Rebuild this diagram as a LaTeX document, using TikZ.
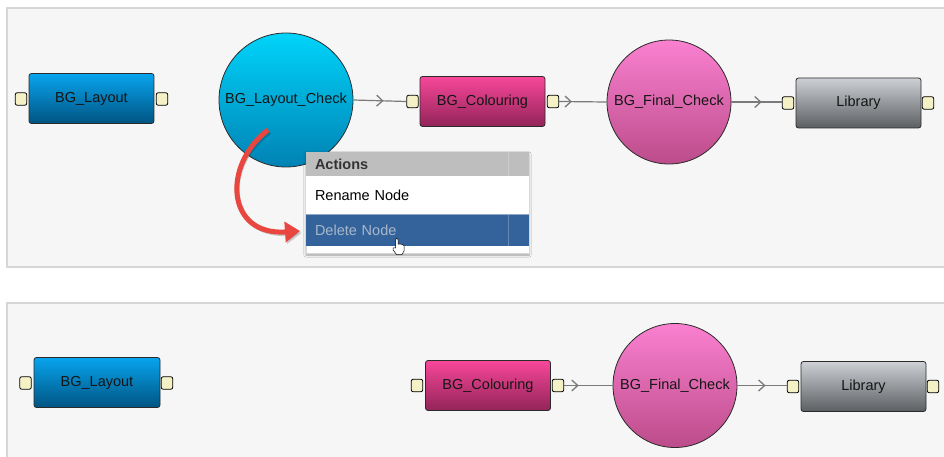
\documentclass[tikz,border=0pt]{standalone}
\usepackage{fontspec}
\setmainfont{Liberation Sans}
\usetikzlibrary{arrows.meta,shadows.blur,decorations.markings,shapes.geometric}
\definecolor{panelbg}{HTML}{F6F6F6}
\definecolor{panelline}{HTML}{D6D6D6}
\definecolor{nodeline}{HTML}{2A2A2A}
\definecolor{txt}{HTML}{151515}
\definecolor{portfill}{HTML}{F4F1C6}
\definecolor{linkgray}{HTML}{7A7A7A}
\definecolor{layT}{HTML}{08A4EE}
\definecolor{layB}{HTML}{005482}
\definecolor{chkT}{HTML}{00D4FA}
\definecolor{chkB}{HTML}{0082B4}
\definecolor{colT}{HTML}{F8479A}
\definecolor{colB}{HTML}{922458}
\definecolor{finT}{HTML}{FA80D0}
\definecolor{finB}{HTML}{BC4C8A}
\definecolor{libT}{HTML}{CDD0D4}
\definecolor{libB}{HTML}{5C5F62}
\definecolor{hdrgray}{HTML}{BEBEBE}
\definecolor{delblue}{HTML}{33639A}
\definecolor{deltext}{HTML}{A9B7CB}
\definecolor{redarr}{HTML}{E8463F}
\begin{document}
\begin{tikzpicture}[x=1pt,y=-1pt,
  font=\fontsize{14.5}{16}\selectfont,
  panel/.style={fill=panelbg,draw=panelline,line width=1.5pt},
  rectnode/.style={rectangle,rounded corners=2.5pt,draw=nodeline,line width=0.8pt,
    minimum width=125pt,minimum height=50pt,inner sep=0pt,text=txt},
  circnode/.style={circle,draw=nodeline,line width=0.8pt,inner sep=0pt,text=txt},
  port/.style={rectangle,rounded corners=2pt,draw=black,line width=0.8pt,fill=portfill,
    minimum width=11.5pt,minimum height=12.5pt,inner sep=0pt},
  link/.style={draw=linkgray,line width=1.2pt,
    decoration={markings,mark=at position #1 with {\arrow[linkgray]{Straight Barb[length=6pt,width=11pt,line width=1.3pt]}}},
    postaction={decorate}},
  menurow/.style={rectangle,minimum width=223pt,inner xsep=9pt,inner ysep=0pt,
    text width=205pt,align=left},
]
\useasboundingbox (0,0) rectangle (944,457);
\clip (0,0) rectangle (944,457);
\fill[white] (0,0) rectangle (944,457);
% panels
\draw[panel] (7,8) rectangle (960,267);
\draw[panel] (7,303) rectangle (960,475);

% ---------- top panel ----------
\node[rectnode,top color=layT,bottom color=layB] (lay1) at (91.5,98.5) {BG\_Layout};
\node[port] (lay1L) at (21,99) {};
\node[port] (lay1R) at (162,99) {};

\node[circnode,minimum size=134pt,top color=chkT,bottom color=chkB] (chk) at (286,100) {BG\_Layout\_Check};

\node[rectnode,top color=colT,bottom color=colB] (col1) at (482.5,101.5) {BG\_Colouring};
\node[port] (col1L) at (412.5,101.5) {};
\node[port] (col1R) at (553,101.5) {};

\node[circnode,minimum size=124pt,top color=finT,bottom color=finB] (fin1) at (669,102) {BG\_Final\_Check};

\node[rectnode,top color=libT,bottom color=libB] (lib1) at (858.5,103) {Library};
\node[port] (lib1L) at (788,103) {};
\node[port] (lib1R) at (928,103) {};

\draw[link=0.57] (chk.east) -- (col1L.west);
\draw[link=0.27] (col1R.east) -- (fin1.west);
\draw[link=0.6] (fin1.east) -- (lib1L.west |- fin1.east);

% context menu
\node[rectangle,fill=white,draw=panelline,line width=0.6pt,minimum width=223pt,minimum height=101pt,
  blur shadow={shadow blur steps=6,shadow xshift=0pt,shadow yshift=-2pt,shadow opacity=35}]
  (menu) at (417.5,202.5) {};
\node[menurow,fill=hdrgray,minimum height=24pt,text=black!80,font=\fontsize{14.5}{16}\selectfont\bfseries]
  (hdr) at (417.5,164) {Actions};
\node[menurow,fill=white,minimum height=38pt,text=black] (ren) at (417.5,195) {Rename Node};
\node[menurow,fill=delblue,minimum height=32pt,text=deltext] (del) at (417.5,230) {Delete Node};
\draw[black!20,line width=0.8pt] (508,152) -- (508,176);
\draw[delblue!75!white,line width=0.8pt] (508,214) -- (508,246);
\draw[delblue!55!white,line width=0.6pt] (del.north west) -- (del.north east);

% cursor
\draw[fill=white,draw=black,line width=0.5pt,line join=round]
  (395.5,248) -- (395.5,239.5) .. controls (395.5,237.8) and (398,237.8) .. (398,239.5)
  -- (398,244) -- (400.5,244) -- (402.5,244.6) -- (404,245.6) -- (404,251)
  -- (402,254.5) -- (396.5,254.5) -- (393,249.8) -- (393,247.8) -- cycle;

% red arrow
\coordinate (rs) at (268,130);
\coordinate (re) at (300,231);
\draw[black,opacity=0.18,line width=5pt,-{Triangle[length=15pt,width=20pt]}]
  ([shift={(1.5,2)}]rs) .. controls (222,165) and (226,236) .. ([shift={(1.5,2)}]re);
\draw[redarr,line width=5pt,-{Triangle[length=15pt,width=20pt]}]
  (rs) .. controls (222,165) and (226,236) .. (re);

% ---------- bottom panel ----------
\node[rectnode,minimum width=126pt,top color=layT,bottom color=layB] (lay2) at (97,382.5) {BG\_Layout};
\node[port] (lay2L) at (25.5,383) {};
\node[port] (lay2R) at (167,383) {};

\node[rectnode,top color=colT,bottom color=colB] (col2) at (488,385.5) {BG\_Colouring};
\node[port] (col2L) at (417,385.5) {};
\node[port] (col2R) at (558,385.5) {};

\node[circnode,minimum size=124pt,top color=finT,bottom color=finB] (fin2) at (675,385.5) {BG\_Final\_Check};

\node[rectnode,top color=libT,bottom color=libB] (lib2) at (863.5,386.5) {Library};
\node[port] (lib2L) at (793,386.5) {};
\node[port] (lib2R) at (933,386.5) {};

\draw[link=0.3] (col2R.east) -- (fin2.west);
\draw[link=0.57] (fin2.east) -- (lib2L.west |- fin2.east);
\end{tikzpicture}
\end{document}
